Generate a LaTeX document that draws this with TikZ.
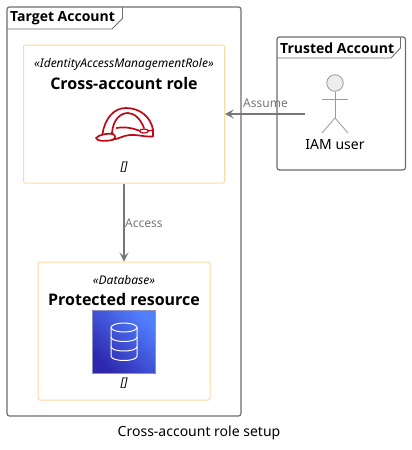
\documentclass[tikz,border=0pt]{standalone}
\usepackage{fontspec}
\setmainfont{Noto Sans}
\newfontfamily\heavysans{Open Sans}
\usetikzlibrary{arrows.meta}
\definecolor{framegray}{HTML}{6E6E6E}
\definecolor{boxedge}{HTML}{FFD9A0}
\definecolor{linkgray}{HTML}{777777}
\definecolor{hatred}{HTML}{BF0816}
\definecolor{dbdark}{HTML}{2E27AD}
\definecolor{dblight}{HTML}{527FFF}
\definecolor{dbedge}{HTML}{8C93B8}
\tikzset{
  x=1pt,y=-1pt,
  frameline/.style={draw=framegray,line width=1.2pt,rounded corners=2.5pt},
  tabline/.style={draw=framegray,line width=0.9pt},
  box/.style={draw=boxedge,line width=1pt,rounded corners=2pt,fill=white,inner sep=0pt},
  link/.style={draw=linkgray,line width=1.1pt,-{Stealth[length=9pt,width=9pt,inset=4pt]}},
  linklabel/.style={text=linkgray,font=\fontsize{12}{13}\selectfont,inner sep=0pt,anchor=west},
  framelabel/.style={font=\heavysans\fontsize{14}{15}\selectfont\bfseries,inner sep=0pt,anchor=west},
  stereo/.style={font=\fontsize{12}{13}\selectfont\itshape,inner sep=0pt},
  title/.style={font=\heavysans\fontsize{16}{17}\selectfont\bfseries,inner sep=0pt},
  plain/.style={font=\fontsize{14}{15}\selectfont,inner sep=0pt},
  stick/.style={draw=framegray!70,line width=0.8pt},
  hat/.style={draw=hatred,line width=1.7pt,line cap=round,line join=round},
  cyl/.style={draw=white,line width=1pt}
}
\begin{document}
\begin{tikzpicture}
\useasboundingbox (0,0) rectangle (412,450);
\fill[white] (0,0) rectangle (412,450);
% Target frame
\path[frameline] (7,7) rectangle (241,416);
\draw[tabline] (7,29) -- (112,29) -- (122.5,18.5) -- (122.5,7);
\node[framelabel] (targetlabel) at (10,18) {Target Account};
% Trusted frame
\path[frameline] (277,37) rectangle (405.5,170);
\draw[tabline] (277,58) -- (391,58) -- (400.5,48) -- (400.5,37);
\node[framelabel] (trustedlabel) at (280,48) {Trusted Account};
% Boxes
\node[box,minimum width=201pt,minimum height=138pt] (role) at (124,114) {};
\node[box,minimum width=172pt,minimum height=138pt] (db) at (124,331) {};
\node[stereo] (rolestereo) at (124,64) {«IdentityAccessManagementRole»};
\node[title] (roletitle) at (124,83) {Cross-account role};
\node[stereo] (roleempty) at (124,167) {[]};
\node[stereo] (dbstereo) at (124,280) {«Database»};
\node[title] (dbtitle) at (124,299.5) {Protected resource};
\node[stereo] (dbempty) at (124,383) {[]};
% Hat
\draw[hat] (102.5,134) .. controls (105,118) and (114,108) .. (126,108)
  .. controls (140,108) and (151,117) .. (153,130) -- (153,136.5)
  .. controls (145,137) and (137,134.5) .. (130,135) .. controls (123,135.5) and (119,139) .. (113,139.5);
\draw[hat] (112,133) .. controls (113,120) and (120,113) .. (128,113)
  .. controls (135,113) and (141,120) .. (144,128);
\draw[hat] (116.5,128) .. controls (125,126.5) and (132,128) .. (139,130.5);
\draw[hat,line width=1.2pt] (144,131) ellipse [x radius=4.5,y radius=2];
\draw[hat,line width=1.2pt] (148.5,131) -- (153,130);
\draw[hat] (96,138) .. controls (99,134.5) and (108,133) .. (113,134) .. controls (116,136) and (116,139) .. (112,140)
  .. controls (106,141.5) and (97,141.5) .. (96,138) -- cycle;
% Database icon
\shade[shading=axis,left color=dbdark,right color=dblight,shading angle=135]
  (92.5,310) rectangle (155.5,373);
\draw[draw=dbedge,line width=1pt] (92.5,310) rectangle (155.5,373);
\draw[cyl] (124,327.5) ellipse [x radius=13,y radius=4.5];
\draw[cyl] (111,327.5) -- (111,356) .. controls (111,362) and (137,362) .. (137,356) -- (137,327.5);
\draw[cyl] (111,337) .. controls (111,343) and (137,343) .. (137,337);
\draw[cyl] (111,346.5) .. controls (111,352.5) and (137,352.5) .. (137,346.5);
% Actor
\node[circle,draw=framegray!70,fill=black!7,line width=0.8pt,minimum size=16.5pt,inner sep=0pt] (head) at (335,83) {};
\coordinate (hip) at (335,118);
\coordinate (armL) at (322,99);
\coordinate (armR) at (348,99);
\coordinate (legL) at (322,133);
\coordinate (legR) at (348,133);
\draw[stick] (head) -- (hip);
\draw[stick] (armL) -- (armR);
\draw[stick] (legL) -- (hip) -- (legR);
\node[plain] (actorlabel) at (335,144.5) {IAM user};
% Connectors
\coordinate (actorleft) at (305,114);
\draw[link] (actorleft) -- (role.east |- actorleft);
\draw[link] (role.south) -- (db.north);
\node[linklabel] (assume) at (243,103.5) {Assume};
\node[linklabel] (access) at (125,223.5) {Access};
\node[plain] (caption) at (199,433) {Cross-account role setup};
\end{tikzpicture}
\end{document}
